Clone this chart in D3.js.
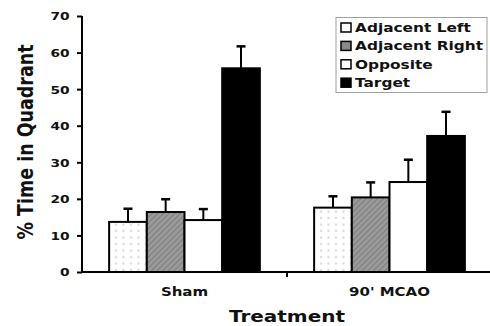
<!DOCTYPE html>
<html>
<head>
<meta charset="utf-8">
<script src="https://cdn.jsdelivr.net/npm/d3@7"></script>
<style>
  body { margin: 0; background: #fff; }
  text { font-family: "DejaVu Sans", Verdana, sans-serif; font-weight: bold; fill: #111; }
</style>
</head>
<body>
<script>
// treatment groups and quadrant series
const groups = ["Sham", "90' MCAO"];
const series = ["Adjacent Left", "Adjacent Right", "Opposite", "Target"];

// mean % time per series, one value for each group
const adjLeft  = [13.7, 17.6];
const adjRight = [16.4, 20.4];
const opposite = [14.2, 24.6];
const target   = [55.7, 37.2];

// error bar (SEM) sizes
const adjLeftErr  = [3.6, 3.1];
const adjRightErr = [3.5, 4.1];
const oppositeErr = [3.0, 6.1];
const targetErr   = [6.0, 6.6];

const yTicks = [0, 10, 20, 30, 40, 50, 60, 70];

const values = [adjLeft, adjRight, opposite, target];
const errs = [adjLeftErr, adjRightErr, oppositeErr, targetErr];

var width = 490, height = 326;
var sx = 1.25; // text in the picture is stretched sideways

const svg = d3.select("body").append("svg")
    .attr("width", width)
    .attr("height", height);

const defs = svg.append("defs");

// light dots for adjacent left
var dots = defs.append("pattern")
    .attr("id", "dots")
    .attr("patternUnits", "userSpaceOnUse")
    .attr("width", 7.5).attr("height", 6.5);
dots.append("rect").attr("width", 7.5).attr("height", 6.5).attr("fill", "#fff");
dots.append("rect").attr("x", 3).attr("y", 2.5).attr("width", 2).attr("height", 2).attr("fill", "#d4d4d4");

// grey hatch for adjacent right
var hatch = defs.append("pattern")
    .attr("id", "hatch")
    .attr("patternUnits", "userSpaceOnUse")
    .attr("width", 4).attr("height", 4)
    .attr("patternTransform", "rotate(45)");
hatch.append("rect").attr("width", 4).attr("height", 4).attr("fill", "#9a9a9a");
hatch.append("line").attr("x1", 0).attr("y1", 0).attr("x2", 0).attr("y2", 4)
    .attr("stroke", "#6a6a6a").attr("stroke-width", 1.2);

const fills = ["url(#dots)", "url(#hatch)", "#fff", "#000"];
const legendFills = ["#fff", "#8a8a8a", "#fff", "#000"];

var x0 = d3.scaleBand()
    .domain(groups)
    .range([82, 492]);

var x1 = d3.scaleBand()
    .domain(series)
    .range([0, x0.bandwidth()])
    .paddingOuter(0.72);

var y = d3.scaleLinear()
    .domain([0, 70])
    .range([272, 16]);

// bars
const g = svg.selectAll("g.grp")
  .data(groups)
  .join("g")
    .attr("class", "grp")
    .attr("transform", d => `translate(${x0(d)},0)`);

series.forEach(function(s, si) {
  g.append("line")
      .attr("x1", (d, i) => x1(s) + x1.bandwidth() / 2)
      .attr("x2", (d, i) => x1(s) + x1.bandwidth() / 2)
      .attr("y1", (d, i) => y(values[si][i]))
      .attr("y2", (d, i) => y(values[si][i] + errs[si][i]))
      .attr("stroke", "#000")
      .attr("stroke-width", 2);
  g.append("line")
      .attr("x1", (d, i) => x1(s) + x1.bandwidth() / 2 - 4.5)
      .attr("x2", (d, i) => x1(s) + x1.bandwidth() / 2 + 4.5)
      .attr("y1", (d, i) => y(values[si][i] + errs[si][i]))
      .attr("y2", (d, i) => y(values[si][i] + errs[si][i]))
      .attr("stroke", "#000")
      .attr("stroke-width", 2.5);
  g.append("rect")
      .attr("x", x1(s))
      .attr("y", (d, i) => y(values[si][i]))
      .attr("width", x1.bandwidth())
      .attr("height", (d, i) => y(0) - y(values[si][i]))
      .attr("fill", fills[si])
      .attr("stroke", "#000")
      .attr("stroke-width", 2);
});

// y axis
const yAxis = svg.append("g")
    .attr("transform", "translate(82,0)")
    .call(d3.axisLeft(y).tickValues(yTicks).tickSize(5).tickSizeOuter(0));
yAxis.select(".domain").attr("stroke-width", 2).attr("d", `M0,${y(70)}V${y(0)}`);
yAxis.selectAll(".tick line").attr("stroke-width", 2);
yAxis.selectAll(".tick text")
    .attr("x", -10)
    .attr("dy", "0.36em")
    .attr("transform", `scale(${sx},1)`)
    .style("font-size", "11px")
    .style("font-family", "DejaVu Sans")
    .style("font-weight", "bold")
    .attr("fill", "#111");

// x axis
svg.append("line")
    .attr("x1", 82).attr("x2", 490)
    .attr("y1", y(0)).attr("y2", y(0))
    .attr("stroke", "#000").attr("stroke-width", 2);
svg.append("line")
    .attr("x1", x0(groups[1])).attr("x2", x0(groups[1]))
    .attr("y1", y(0)).attr("y2", y(0) + 5)
    .attr("stroke", "#000").attr("stroke-width", 2);

svg.selectAll("text.cat")
  .data(groups)
  .join("text")
    .attr("class", "cat")
    .attr("transform", d => `translate(${x0(d) + x0.bandwidth() / 2},296) scale(${sx},1)`)
    .attr("text-anchor", "middle")
    .style("font-size", "12px")
    .text(d => d);

svg.append("text")
    .attr("transform", `translate(287,322) scale(${sx},1)`)
    .attr("text-anchor", "middle")
    .style("font-size", "16px")
    .text("Treatment");

svg.append("text")
    .attr("transform", `translate(33,142) rotate(-90) scale(1,${sx})`)
    .attr("text-anchor", "middle")
    .style("font-size", "17.5px")
    .text("% Time in Quadrant");

// legend
const legend = svg.append("g");
legend.append("rect")
    .attr("x", 336).attr("y", 17.5)
    .attr("width", 151).attr("height", 75)
    .attr("fill", "#fff")
    .attr("stroke", "#a0a0a0")
    .attr("stroke-width", 1);

const item = legend.selectAll("g.item")
  .data(series)
  .join("g")
    .attr("class", "item")
    .attr("transform", (d, i) => `translate(341,${27.5 + i * 18.4})`);

item.append("rect")
    .attr("x", 0).attr("y", -4.5)
    .attr("width", 10).attr("height", 9)
    .attr("fill", (d, i) => legendFills[i])
    .attr("stroke", "#000")
    .attr("stroke-width", 1.5);

item.append("text")
    .attr("transform", `translate(14,0) scale(${sx},1)`)
    .attr("dy", "0.36em")
    .style("font-size", "12.3px")
    .text(d => d);
</script>
</body>
</html>
